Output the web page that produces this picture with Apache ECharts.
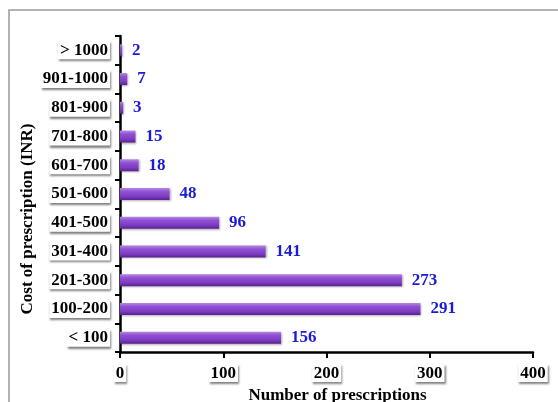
<!DOCTYPE html>
<html>
<head>
<meta charset="utf-8">
<script src="https://cdn.jsdelivr.net/npm/echarts@6/dist/echarts.min.js"></script>
<style>
  html, body { margin: 0; padding: 0; background: #fff; }
  #chart { width: 558px; height: 402px; }
</style>
</head>
<body>
<div id="chart"></div>
<script>
// cost bands, bottom to top
var costBands = ['< 100', '100-200', '201-300', '301-400', '401-500', '501-600',
                 '601-700', '701-800', '801-900', '901-1000', '> 1000'];
var prescriptions = [156, 291, 273, 141, 96, 48, 18, 15, 3, 7, 2];
var xTicks = [0, 100, 200, 300, 400];

var myChart = echarts.init(document.getElementById('chart'));

// white label box with a small drop shadow, like the original
var boxLabel = {
  color: '#000',
  fontFamily: 'Liberation Serif',
  fontWeight: 'bold',
  fontSize: 17,
  backgroundColor: '#fff',
  padding: [1, 2, 0, 2],
  shadowColor: 'rgba(0,0,0,0.5)',
  shadowBlur: 2,
  shadowOffsetX: 1,
  shadowOffsetY: 2
};

var nameStyle = {
  color: '#000',
  fontFamily: 'Liberation Serif',
  fontWeight: 'bold',
  fontSize: 17
};

myChart.setOption({
  backgroundColor: '#fff',
  animation: false,
  graphic: [{
    type: 'rect',
    shape: { x: 9, y: 10, width: 600, height: 450 },
    style: { fill: 'none', stroke: '#999', lineWidth: 1.5 },
    silent: true
  }],
  grid: {
    left: 120,
    right: 25,
    top: 36,
    bottom: 50,
    outerBoundsMode: 'none'
  },
  xAxis: {
    type: 'value',
    min: xTicks[0],
    max: xTicks[xTicks.length - 1],
    interval: 100,
    name: 'Number of prescriptions',
    nameLocation: 'middle',
    nameGap: 35,
    nameMoveOverlap: false,
    nameTextStyle: Object.assign({ padding: [0, 0, 0, 22] }, nameStyle),
    axisLine: { show: true, lineStyle: { color: '#000', width: 2.5 } },
    axisTick: { show: true, length: 6, lineStyle: { color: '#000', width: 2 } },
    axisLabel: Object.assign({ margin: 12 }, boxLabel),
    splitLine: { show: false }
  },
  yAxis: {
    type: 'category',
    data: costBands,
    name: 'Cost of prescription (INR)',
    nameLocation: 'middle',
    nameGap: 84,
    nameRotate: 90,
    nameMoveOverlap: false,
    nameTextStyle: Object.assign({ padding: [0, 50, 0, 0] }, nameStyle),
    axisLine: { show: true, lineStyle: { color: '#000', width: 2.5 } },
    axisTick: { show: true, length: 5, lineStyle: { color: '#000', width: 2 } },
    axisLabel: Object.assign({ margin: 10 }, boxLabel)
  },
  series: [{
    type: 'bar',
    data: prescriptions,
    barWidth: 12,
    itemStyle: {
      color: new echarts.graphic.LinearGradient(0, 0, 0, 1, [
        { offset: 0, color: '#b48ae0' },
        { offset: 0.3, color: '#9050d4' },
        { offset: 0.7, color: '#7e3cc2' },
        { offset: 1, color: '#5a2090' }
      ]),
      shadowColor: 'rgba(0,0,0,0.3)',
      shadowBlur: 2,
      shadowOffsetX: 1,
      shadowOffsetY: 1
    },
    label: {
      show: true,
      position: 'right',
      distance: 10,
      color: '#1a1ad8',
      fontFamily: 'Liberation Serif',
      fontWeight: 'bold',
      fontSize: 17
    }
  }]
});
</script>
</body>
</html>
